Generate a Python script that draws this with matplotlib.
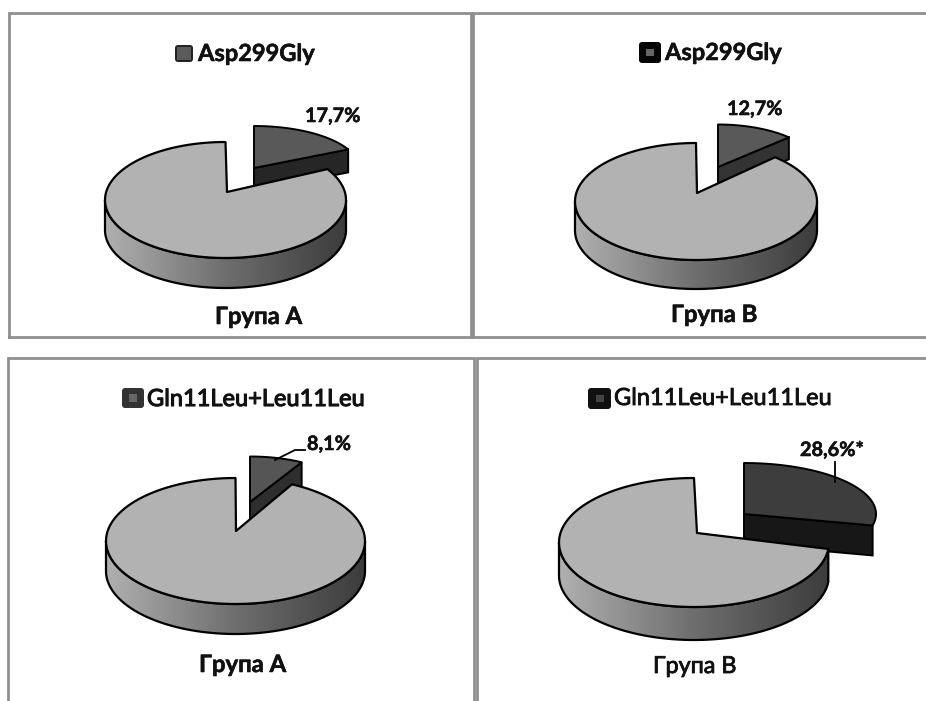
import numpy as np
import matplotlib
matplotlib.use("Agg")
import matplotlib.pyplot as plt
import matplotlib.patheffects as pe
from matplotlib.patches import Polygon, FancyBboxPatch, Rectangle
from matplotlib.colors import LinearSegmentedColormap

plt.rcParams['font.family'] = ['Lato', 'Open Sans', 'DejaVu Sans']

# data
shares = [17.7, 12.7, 8.1, 28.6]
share_labels = ["17,7%", "12,7%", "8,1%", "28,6%*"]
legend_labels = ["Asp299Gly", "Asp299Gly", "Gln11Leu+Leu11Leu", "Gln11Leu+Leu11Leu"]
group_labels = ["Група А", "Група В", "Група А", "Група В"]

# layout, in pixels of the picture
main_geom = [(225.5, 200, 120.5, 58, 30, 227, 192, 5.9),  # cx, cy, rx, ry, depth, apex x, apex y, angle shift
             (696, 201.5, 121, 58.5, 29, 697, 193, 4.9),
             (235.5, 541, 129.5, 63, 30, 236, 531, 3.3),
             (694, 542.5, 135, 64.5, 33, 697, 533, 7.2)]
slice_geom = [(254, 168, 105, 42, 23),  # apex x, apex y, rx, ry, depth
              (718, 167, 99, 42.5, 22),
              (250, 502, 106, 45.5, 23),
              (744, 514, 132, 51, 30)]
slice_top = ["#595959", "#595959", "#555555", "#3d3d3d"]
slice_side = ["#262626", "#333333", "#2e2e2e", "#171717"]
legend_pos = [(175, 45, 18, 17), (639, 42, 22, 21), (122, 388, 22, 20), (588, 388, 23, 21)]
legend_col = [("#222222", "#5a5a5a", 14), ("#050505", "#666666", 8), ("#333333", "#666666", 8), ("#111111", "#444444", 8)]
legend_txt = [(198, 61, "bold", 0.4), (665, 60, "bold", 0.4), (147, 406, "normal", 0.8), (614, 405, "normal", 0.6)]
share_txt = [(305, 122), (727, 115), (307, 450), (800, 456)]
group_txt = [(215, 324, "bold", 17.2, 0.4), (671, 322, "bold", 17.2, 0.4), (199, 672, "bold", 17.2, 0.4), (653, 673, "normal", 16.8, 0.6)]
frames = [[(9, 337), (9, 13), (471, 13), (471, 337), (9, 337)],
          [(926, 13), (473, 13), (473, 337), (926, 337)],
          [(8, 701), (8, 358), (474, 358), (474, 701)],
          [(926, 358), (477, 358), (477, 701)]]
leaders = [None, None, [(275, 460), (295, 450), (305, 450)], [(835, 462), (835, 482)]]

rim_cmap = LinearSegmentedColormap.from_list("rim", ["#b0b0b0", "#6e6e6e", "#3c3c3c"])


def arc(cx, cy, rx, ry, t0, t1, n=120):
    # angles in degrees, clockwise from 12 o'clock
    t = np.radians(np.linspace(t0, t1, n))
    return np.column_stack([cx + rx*np.sin(t), cy - ry*np.cos(t)])


fig = plt.figure(figsize=(9.26, 7.01), dpi=100)
ax = fig.add_axes([0, 0, 1, 1])

for frame in frames:
    xy = np.array(frame)
    ax.plot(xy[:, 0], xy[:, 1], color="#8f8f8f", lw=2.0, solid_joinstyle="miter", zorder=1)

for i, share in enumerate(shares):
    cx, cy, rx, ry, depth, apx, apy, shift = main_geom[i]
    sx, sy, srx, sry, sdepth = slice_geom[i]
    theta = share/100*360

    # pulled out slice, the main pie is drawn over its lower part
    end = arc(sx, sy, srx, sry, theta, theta, 1)[0]
    side = [(sx, sy), tuple(end), (end[0], end[1]+sdepth), (sx, sy+sdepth)]
    ax.add_patch(Polygon(side, closed=True, fc=slice_side[i], ec="black", lw=1.4, zorder=2))
    top = np.vstack([[(sx, sy)], arc(sx, sy, srx, sry, 0, theta)])
    ax.add_patch(Polygon(top, closed=True, fc=slice_top[i], ec="black", lw=1.4, joinstyle="round", zorder=3))

    # rim of the main pie
    start = theta - shift
    t0 = max(start, 90)
    upper = arc(cx, cy, rx, ry, t0, 270)
    lower = arc(cx, cy+depth, rx, ry, 270, t0)
    rim = Polygon(np.vstack([upper, lower]), closed=True, fc="none", ec="black", lw=1.6, zorder=4)
    ax.add_patch(rim)
    grad = ax.imshow(np.linspace(0, 1, 256).reshape(1, -1), cmap=rim_cmap, aspect="auto",
                     extent=(cx-rx, cx+rx, cy+ry+depth, cy), zorder=3.9)
    grad.set_clip_path(rim)

    # top of the main pie
    surface = np.vstack([[(apx, apy)], arc(cx, cy, rx, ry, start, 360)])
    ax.add_patch(Polygon(surface, closed=True, fc="#b2b2b2", ec="black", lw=1.6, joinstyle="round", zorder=5))

    # legend key and texts
    lx, ly, lw, lh = legend_pos[i]
    outer, inner, size = legend_col[i]
    ax.add_patch(FancyBboxPatch((lx+2, ly+2), lw-4, lh-4, boxstyle="round,pad=2,rounding_size=3",
                                fc=outer, ec="none", zorder=6))
    ax.add_patch(Rectangle((lx+lw/2-size/2, ly+lh/2-size*lh/lw/2), size, size*lh/lw, fc=inner, ec="none", zorder=7))

    tx, ty, weight, stroke = legend_txt[i]
    t = ax.text(tx, ty, legend_labels[i], fontsize=17, fontweight=weight, ha="left", va="baseline", color="#111111")
    t.set_path_effects([pe.withStroke(linewidth=stroke, foreground="#111111")])
    tx, ty = share_txt[i]
    t = ax.text(tx, ty, share_labels[i], fontsize=14.3, fontweight="bold", ha="left", va="baseline", color="#111111")
    t.set_path_effects([pe.withStroke(linewidth=0.4, foreground="#111111")])
    tx, ty, weight, fs, stroke = group_txt[i]
    t = ax.text(tx, ty, group_labels[i], fontsize=fs, fontweight=weight, ha="left", va="baseline", color="#111111")
    t.set_path_effects([pe.withStroke(linewidth=stroke, foreground="#111111")])

    if leaders[i] is not None:
        xy = np.array(leaders[i])
        ax.plot(xy[:, 0], xy[:, 1], color="black", lw=1.3, zorder=6)

ax.set_xlim(0, 926)
ax.set_ylim(701, 0)
ax.axis("off")
fig.savefig("out.png", dpi=100, facecolor="white")
